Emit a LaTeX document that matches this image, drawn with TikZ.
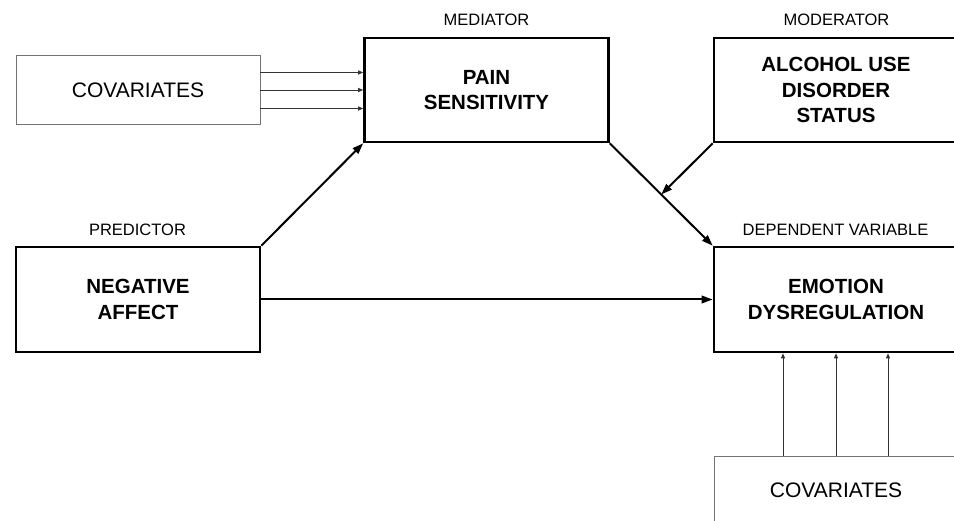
\documentclass[tikz,border=0pt]{standalone}
\usepackage{fontspec}
\setmainfont{Liberation Sans}
\usetikzlibrary{arrows.meta,calc}
\begin{document}
\begin{tikzpicture}[x=1pt,y=-1pt,
  bigbox/.style={draw=black,line width=2.6pt,minimum width=244pt,minimum height=104pt,inner sep=0pt,align=center,font=\fontsize{20.5}{25.5}\selectfont\bfseries},
  covbox/.style={draw=black!55,line width=0.9pt,minimum width=244pt,minimum height=69pt,inner sep=0pt,font=\fontsize{21}{25}\selectfont},
  role/.style={inner sep=0pt,font=\fontsize{16.5}{20}\selectfont},
  thickarrow/.style={line width=2pt,-{Triangle[length=11pt,width=7.5pt]}},
  thinarrow/.style={line width=0.9pt,draw=black!80,-{Triangle[length=5pt,width=4pt]}}]
\useasboundingbox (0,0) rectangle (954,521);
\node[covbox] (cov1) at (138,90) {COVARIATES};
\node[bigbox] (pain) at (486.5,90) {PAIN\\SENSITIVITY};
\node[bigbox] (alc) at (836,90) {ALCOHOL USE\\DISORDER\\STATUS};
\node[bigbox,minimum height=105pt] (neg) at (138,299.5) {NEGATIVE\\AFFECT};
\node[bigbox,minimum height=105pt] (emo) at (836,299.5) {EMOTION\\DYSREGULATION};
\node[covbox] (cov2) at (836,490.5) {COVARIATES};
\node[role] (medl) at (486.5,20) {MEDIATOR};
\node[role] (modl) at (836.5,20) {MODERATOR};
\node[role] (predl) at (137.5,229.5) {PREDICTOR};
\node[role] (depl) at (835.5,229.5) {DEPENDENT VARIABLE};
\foreach \d in {17.5,0,-18.5}
  \draw[thinarrow] ([yshift=\d pt]cov1.east) -- ([yshift=\d pt]pain.west);
\foreach \d in {-53,0,52}
  \draw[thinarrow] ([xshift=\d pt]cov2.north) -- ([xshift=\d pt]emo.south);
\draw[thickarrow] (neg.north east) -- (pain.south west);
\draw[thickarrow] (pain.south east) -- (emo.north west);
\coordinate (mid) at ($(pain.south east)!0.5!(emo.north west)$);
\draw[thickarrow] (alc.south west) -- (mid);
\draw[thickarrow] (neg.east) -- (emo.west);
\end{tikzpicture}
\end{document}
